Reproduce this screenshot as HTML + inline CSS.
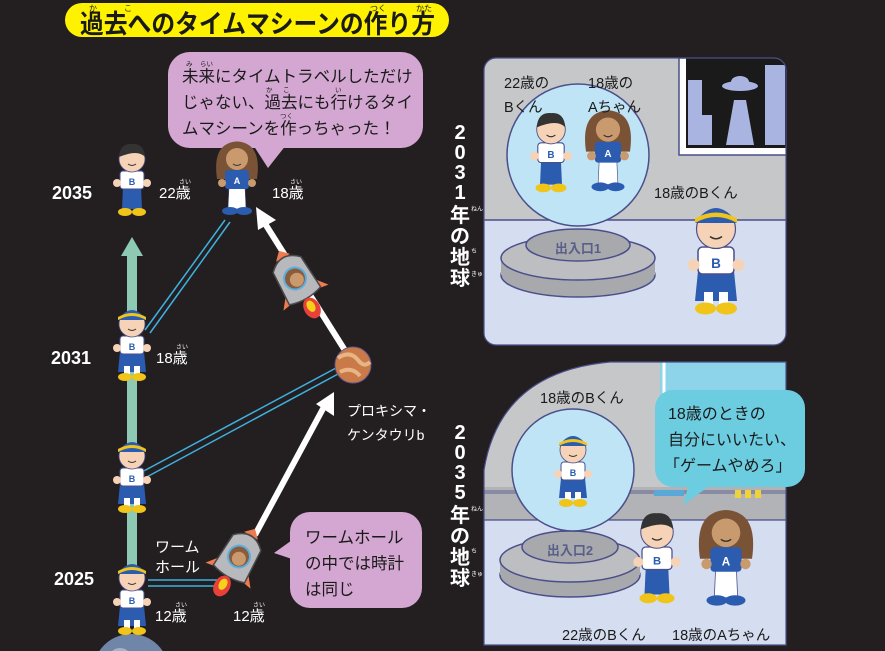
<!DOCTYPE html>
<html><head><meta charset="utf-8"><style>
html,body{margin:0;padding:0;background:#231f20;overflow:hidden;width:885px;height:651px;}
svg{display:block;}
text{font-family:"Liberation Sans","Noto Sans CJK JP",sans-serif;}
</style></head><body>
<svg width="885" height="651" viewBox="0 0 885 651" xmlns="http://www.w3.org/2000/svg">
<defs>
<g id="boycap">
  <path d="M-14,64 L-12,44 L12,44 L14,64 Z" fill="#2b5cb0"/>
  <rect x="-12" y="28" width="24" height="18" rx="3" fill="#fff" stroke="#4a4f8a" stroke-width="1"/>
  <text x="0" y="42" font-size="9" font-weight="bold" fill="#2b5cb0" text-anchor="middle">B</text>
  <circle cx="-15" cy="40" r="4" fill="#f6d2b6"/><circle cx="15" cy="40" r="4" fill="#f6d2b6"/>
  <rect x="-8" y="58" width="6" height="8" fill="#fff"/><rect x="2" y="58" width="6" height="8" fill="#fff"/>
  <ellipse cx="-7" cy="69" rx="7" ry="4" fill="#f0c419"/><ellipse cx="7" cy="69" rx="7" ry="4" fill="#f0c419"/>
  <circle cx="0" cy="16" r="13" fill="#f6d2b6" stroke="#4a4f8a" stroke-width="0.8"/>
  <path d="M-14,12 Q0,-8 14,12 Z" fill="#2b5cb0"/>
  <path d="M-14,12 Q0,4 14,12 L14,9 Q0,1 -14,9Z" fill="#f0c419"/>
  <path d="M-4,21 Q0,24 4,21" stroke="#333" fill="none" stroke-width="1"/>
</g>
<g id="boyhair">
  <path d="M-10,66 L-9,44 L9,44 L10,66 Z" fill="#2b5cb0"/>
  <rect x="-12" y="28" width="24" height="18" rx="3" fill="#fff" stroke="#4a4f8a" stroke-width="1"/>
  <text x="0" y="42" font-size="9" font-weight="bold" fill="#2b5cb0" text-anchor="middle">B</text>
  <circle cx="-15" cy="40" r="4" fill="#f6d2b6"/><circle cx="15" cy="40" r="4" fill="#f6d2b6"/>
  <ellipse cx="-7" cy="69" rx="7" ry="4" fill="#f0c419"/><ellipse cx="7" cy="69" rx="7" ry="4" fill="#f0c419"/>
  <circle cx="0" cy="16" r="13" fill="#f6d2b6" stroke="#4a4f8a" stroke-width="0.8"/>
  <path d="M-13,14 Q-12,0 0,1 Q12,0 13,14 Q6,6 -13,14Z" fill="#333"/>
  <path d="M-4,21 Q0,24 4,21" stroke="#333" fill="none" stroke-width="1"/>
</g>
<g id="girl">
  <path d="M-20,36 Q-24,8 -10,1 Q0,-4 10,1 Q24,8 20,36 Z" fill="#7a5236"/>
  <path d="M-9,66 L-8,44 L8,44 L9,66 Z" fill="#fff" stroke="#4a4f8a" stroke-width="0.6"/>
  <rect x="-12" y="27" width="24" height="19" rx="3" fill="#2b5cb0"/>
  <text x="0" y="41" font-size="9" font-weight="bold" fill="#fff" text-anchor="middle">A</text>
  <circle cx="-15" cy="40" r="4" fill="#c99a6e"/><circle cx="15" cy="40" r="4" fill="#c99a6e"/>
  <ellipse cx="-7" cy="68" rx="8" ry="4" fill="#2b5cb0"/><ellipse cx="7" cy="68" rx="8" ry="4" fill="#2b5cb0"/>
  <circle cx="0" cy="16" r="11" fill="#c99a6e"/>
  <path d="M-4,21 Q0,24 4,21" stroke="#333" fill="none" stroke-width="1"/>
</g>
<g id="rocket">
  <path d="M-18,8 L-26,18 L-14,16Z M18,8 L26,18 L14,16Z" fill="#f07b4f"/>
  <path d="M-8,-28 L8,-28 L0,-36Z" fill="#f07b4f"/>
  <path d="M-16,-20 Q0,-36 16,-20 L18,16 Q0,22 -18,16Z" fill="#b8b9bd" stroke="#4a4a4a" stroke-width="1.5"/>
  <circle cx="0" cy="-4" r="12" fill="#5ab0e0"/><circle cx="0" cy="-4" r="10" fill="#8a5c3c"/>
  <circle cx="1" cy="-2" r="7" fill="#c99a6e"/>
  <ellipse cx="0" cy="30" rx="8" ry="11" fill="#e8413a"/><ellipse cx="0" cy="28" rx="4" ry="6" fill="#f5d11a"/>
</g>
</defs>

<!-- title -->
<rect x="65" y="3" width="384" height="34" rx="17" fill="#fff200"/>
<text x="80" y="33" font-size="26" font-weight="bold" fill="#1a1a1a" textLength="355" lengthAdjust="spacingAndGlyphs">過去へのタイムマシーンの作り方</text>
<text x="89" y="11" font-size="8" fill="#1a1a1a">か</text><text x="124" y="11" font-size="8" fill="#1a1a1a">こ</text>
<text x="370" y="11" font-size="8" fill="#1a1a1a">つく</text><text x="416" y="11" font-size="8" fill="#1a1a1a">かた</text>

<!-- bubble 1 -->
<rect x="168" y="52" width="255" height="96" rx="22" fill="#d3a7d1"/>
<path d="M250,140 L268,168 L290,140Z" fill="#d3a7d1"/>
<g font-size="16.5" fill="#1a1a1a">
<text x="182" y="82">未来にタイムトラベルしただけ</text>
<text x="182" y="108">じゃない、過去にも行けるタイ</text>
<text x="182" y="134">ムマシーンを作っちゃった！</text>
</g>
<g font-size="6.5" fill="#1a1a1a"><text x="186" y="66">み</text><text x="200" y="66">らい</text><text x="266" y="92">か</text><text x="283" y="92">こ</text><text x="335" y="92">い</text><text x="280" y="118">つく</text></g>

<!-- timeline bar -->
<rect x="127" y="255" width="10" height="330" fill="#8ec9b3"/>
<path d="M121,256 L132,237 L143,256Z" fill="#8ec9b3"/>

<!-- blue double lines -->
<g stroke="#3fb0e0" stroke-width="1.5" fill="none">
<line x1="145" y1="330" x2="225" y2="220"/><line x1="150" y1="333" x2="230" y2="222"/>
<line x1="140" y1="473" x2="336" y2="368"/><line x1="143" y1="479" x2="338" y2="374"/>
<line x1="148" y1="580" x2="218" y2="580"/><line x1="148" y1="586" x2="220" y2="586"/>
</g>

<!-- white arrows -->
<g stroke="#fff" stroke-width="6" fill="none">
<line x1="346" y1="352" x2="264" y2="222"/>
<line x1="255" y1="535" x2="325" y2="405"/>
</g>
<path d="M256,207 L276,220 L258,230Z" fill="#fff"/>
<path d="M334,392 L334,416 L316,404Z" fill="#fff"/>

<!-- planet -->
<circle cx="353" cy="365" r="18" fill="#c97a48" stroke="#6a5a8a" stroke-width="1"/>
<path d="M338,358 Q350,350 358,360 Q364,368 370,362 M340,372 Q352,366 360,376" stroke="#e8b585" stroke-width="4" fill="none"/>

<!-- rockets -->
<g transform="translate(297,282) rotate(-30)"><use href="#rocket"/></g>
<g transform="translate(237,560) rotate(30)"><use href="#rocket"/></g>

<!-- earth -->
<circle cx="131" cy="672" r="38" fill="#6f86a8"/>
<circle cx="120" cy="660" r="12" fill="#c8d2e0" opacity="0.6"/>

<!-- characters -->
<g transform="translate(132,143)"><use href="#boyhair"/></g>
<g transform="translate(237,143)"><use href="#girl"/></g>
<g transform="translate(132,308)"><use href="#boycap"/></g>
<g transform="translate(132,440)"><use href="#boycap"/></g>
<g transform="translate(132,562)"><use href="#boycap"/></g>

<!-- left labels -->
<g fill="#fff">
<text x="52" y="199" font-size="18" font-weight="bold">2035</text>
<text x="51" y="364" font-size="18" font-weight="bold">2031</text>
<text x="54" y="585" font-size="18" font-weight="bold">2025</text>
<g font-size="15">
<text x="159" y="198">22歳</text><text x="272" y="198">18歳</text>
<text x="156" y="363">18歳</text>
<text x="155" y="621">12歳</text><text x="233" y="621">12歳</text>
<text x="155" y="552">ワーム</text><text x="155" y="572">ホール</text>
<text x="347" y="416" font-size="14">プロキシマ・</text>
<text x="347" y="440" font-size="14">ケンタウリb</text>
</g>
<g font-size="6"><text x="179" y="184">さい</text><text x="290" y="184">さい</text><text x="176" y="349">さい</text><text x="175" y="607">さい</text><text x="253" y="607">さい</text></g>
</g>

<!-- bubble 2 -->
<rect x="290" y="512" width="132" height="96" rx="20" fill="#d3a7d1"/>
<path d="M295,538 L274,553 L295,560Z" fill="#d3a7d1"/>
<g font-size="16.5" fill="#1a1a1a">
<text x="305" y="543">ワームホール</text>
<text x="305" y="569">の中では時計</text>
<text x="305" y="595">は同じ</text>
</g>

<!-- vertical titles -->
<g fill="#fff" font-size="20" font-weight="bold" text-anchor="middle">
<text x="460" y="139">2</text><text x="460" y="159">0</text><text x="460" y="179">3</text><text x="460" y="199">1</text>
<text x="460" y="222">年</text><text x="460" y="243">の</text><text x="460" y="264">地</text><text x="460" y="285">球</text>
<text x="460" y="439">2</text><text x="460" y="459">0</text><text x="460" y="479">3</text><text x="460" y="499">5</text>
<text x="460" y="522">年</text><text x="460" y="543">の</text><text x="460" y="564">地</text><text x="460" y="585">球</text>
</g>
<g fill="#fff" font-size="6"><text x="471" y="211">ねん</text><text x="471" y="253">ち</text><text x="471" y="276">きゅう</text>
<text x="471" y="511">ねん</text><text x="471" y="553">ち</text><text x="471" y="576">きゅう</text></g>

<!-- Panel 1 -->
<g>
<clipPath id="c1"><rect x="484" y="58" width="302" height="287" rx="12"/></clipPath>
<g clip-path="url(#c1)">
<rect x="484" y="58" width="302" height="287" fill="#c6c7c9"/>
<rect x="484" y="220" width="302" height="125" fill="#d5def0"/>
<line x1="484" y1="220" x2="786" y2="220" stroke="#4a4f8a" stroke-width="1.5"/>
<rect x="679" y="58" width="110" height="97" fill="#fff" stroke="#4a4f8a" stroke-width="1.5"/>
<rect x="686" y="58" width="100" height="90" fill="#1a1a1a"/>
<rect x="688" y="80" width="14" height="65" fill="#a9b4e0"/><rect x="702" y="115" width="10" height="30" fill="#a9b4e0"/>
<rect x="765" y="65" width="20" height="80" fill="#a9b4e0"/>
<path d="M726,145 L734,100 L746,100 L754,145Z" fill="#a9b4e0"/>
<ellipse cx="740" cy="86" rx="18" ry="5" fill="#a9b4e0"/><ellipse cx="740" cy="82" rx="9" ry="6" fill="#a9b4e0"/>
</g>
<rect x="484" y="58" width="302" height="287" rx="12" fill="none" stroke="#4a4f8a" stroke-width="1.2"/>
<ellipse cx="578" cy="275" rx="77" ry="22" fill="#a8a9ac" stroke="#4a4f8a" stroke-width="1.5"/>
<rect x="501" y="258" width="154" height="17" fill="#a8a9ac"/>
<ellipse cx="578" cy="258" rx="77" ry="22" fill="#bdbec1" stroke="#4a4f8a" stroke-width="1.5"/>
<ellipse cx="578" cy="245" rx="52" ry="16" fill="#a8a9ac" stroke="#4a4f8a" stroke-width="1.5"/>
<text x="578" y="253" font-size="13" font-weight="bold" fill="#5a5f8a" text-anchor="middle">出入口1</text>
<circle cx="578" cy="155" r="71" fill="#bfe4f6" stroke="#4a4f8a" stroke-width="1.5"/>
<g transform="translate(551,112) scale(1.1)"><use href="#boyhair"/></g>
<g transform="translate(608,112) scale(1.1)"><use href="#girl"/></g>
<g transform="translate(716,205) scale(1.5)"><use href="#boycap"/></g>
<g font-size="14.5" fill="#1a1a1a">
<text x="504" y="88">22歳の</text><text x="504" y="112">Bくん</text>
<text x="588" y="88">18歳の</text><text x="588" y="112">Aちゃん</text>
<text x="654" y="198">18歳のBくん</text>
</g>
</g>

<!-- Panel 2 -->
<g>
<clipPath id="c2"><path d="M484,645 L484,470 Q500,372 610,362 L786,362 L786,645Z"/></clipPath>
<g clip-path="url(#c2)">
<rect x="484" y="362" width="302" height="283" fill="#c6c7c9"/>
<rect x="660" y="362" width="126" height="100" fill="#8dd3ea"/>
<line x1="664" y1="362" x2="664" y2="450" stroke="#fff" stroke-width="3"/>
<rect x="484" y="487" width="302" height="33" fill="#b2b3b6"/>
<rect x="484" y="490" width="302" height="4" fill="#4a4f8a" opacity="0.4"/>
<rect x="484" y="520" width="302" height="125" fill="#d5def0"/>
<line x1="484" y1="520" x2="786" y2="520" stroke="#4a4f8a" stroke-width="1.2"/>
<rect x="654" y="490" width="30" height="6" fill="#59a8d8"/>
<rect x="735" y="490" width="6" height="8" fill="#f0d23a"/><rect x="745" y="490" width="6" height="8" fill="#f0d23a"/><rect x="755" y="490" width="6" height="8" fill="#f0d23a"/>
</g>
<path d="M484,645 L484,470 Q500,372 610,362 L786,362 L786,645Z" fill="none" stroke="#4a4f8a" stroke-width="1.2"/>
<ellipse cx="570" cy="575" rx="70" ry="22" fill="#a8a9ac" stroke="#4a4f8a" stroke-width="1.5"/>
<rect x="500" y="560" width="140" height="15" fill="#a8a9ac"/>
<ellipse cx="570" cy="560" rx="70" ry="22" fill="#bdbec1" stroke="#4a4f8a" stroke-width="1.5"/>
<ellipse cx="570" cy="547" rx="48" ry="16" fill="#a8a9ac" stroke="#4a4f8a" stroke-width="1.5"/>
<text x="570" y="555" font-size="13" font-weight="bold" fill="#5a5f8a" text-anchor="middle">出入口2</text>
<circle cx="573" cy="470" r="61" fill="#bfe4f6" stroke="#4a4f8a" stroke-width="1.5"/>
<g transform="translate(573,434) scale(1.0)"><use href="#boycap"/></g>
<g transform="translate(657,512) scale(1.25)"><use href="#boyhair"/></g>
<g transform="translate(726,512) scale(1.3)"><use href="#girl"/></g>
<rect x="655" y="390" width="150" height="97" rx="18" fill="#6ccde0"/>
<path d="M690,480 L683,505 L715,482Z" fill="#6ccde0"/>
<g font-size="16" fill="#1a1a1a">
<text x="668" y="419">18歳のときの</text>
<text x="668" y="445">自分にいいたい、</text>
<text x="664" y="471">「ゲームやめろ」</text>
</g>
<g font-size="14.5" fill="#1a1a1a">
<text x="540" y="403">18歳のBくん</text>
<text x="562" y="640">22歳のBくん</text>
<text x="672" y="640">18歳のAちゃん</text>
</g>
</g>
</svg>
</body></html>
